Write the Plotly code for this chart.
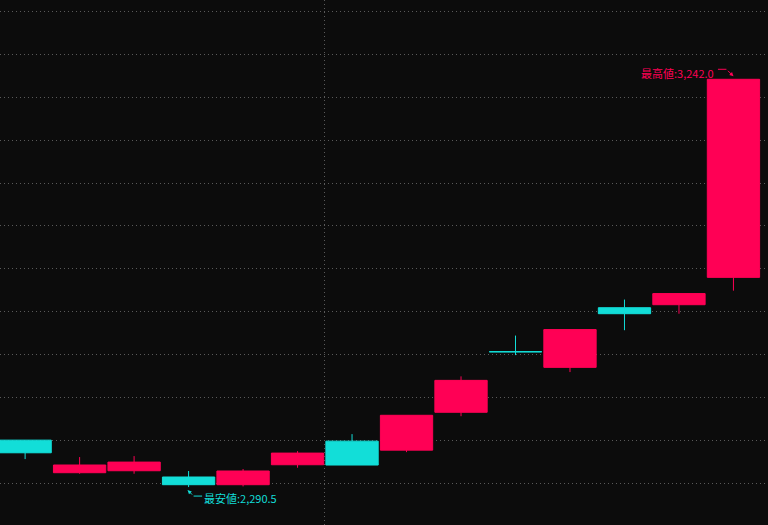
import plotly.graph_objects as go

# ---- data ----
days = list(range(14))
opens  = [2400.0, 2324.0, 2328.6, 2314.0, 2296.0, 2342.6, 2397.7, 2376.7, 2465.0, 2606.3, 2569.8, 2709.0, 2716.0, 2779.8]
highs  = [2400.0, 2360.5, 2362.8, 2328.0, 2332.6, 2374.4, 2414.0, 2458.0, 2548.8, 2644.0, 2658.0, 2728.0, 2742.0, 3242.0]
lows   = [2355.8, 2321.6, 2321.6, 2290.5, 2292.0, 2335.6, 2342.0, 2372.0, 2455.8, 2598.4, 2558.8, 2656.5, 2695.0, 2748.8]
closes = [2370.5, 2342.0, 2348.8, 2296.0, 2328.0, 2369.8, 2341.9, 2458.0, 2539.5, 2606.2, 2658.0, 2695.0, 2742.0, 3242.0]

high_label = "最高値:3,242.0"
low_label = "最安値:2,290.5"

UP = "#FF0055"
DOWN = "#12DED8"
BG = "#0C0C0C"
GRID = "#5A5A5A"

fig = go.Figure()
fig.add_trace(go.Candlestick(
    x=days, open=opens, high=highs, low=lows, close=closes,
    increasing=dict(line=dict(color=UP, width=1), fillcolor=UP),
    decreasing=dict(line=dict(color=DOWN, width=1), fillcolor=DOWN),
    whiskerwidth=0, showlegend=False, hoverinfo="skip",
))

i_hi = highs.index(max(highs))
i_lo = lows.index(min(lows))
font = dict(family="Noto Sans CJK JP", size=11)

ann = []
# high label + bent arrow
ann.append(dict(x=days[i_hi], y=highs[i_hi], xref="x", yref="y", text=high_label,
                showarrow=False, xanchor="right", yanchor="middle",
                xshift=-17, yshift=6, font=dict(color=UP, **font)))
ann.append(dict(x=days[i_hi], y=highs[i_hi], xref="x", yref="y", text="",
                showarrow=True, ax=-10, ay=0, xshift=-7, yshift=10,
                arrowhead=0, arrowwidth=1, arrowcolor=UP))
ann.append(dict(x=days[i_hi], y=highs[i_hi], xref="x", yref="y", text="",
                showarrow=True, ax=-7, ay=-7, xshift=0, yshift=3,
                arrowhead=2, arrowsize=0.8, arrowwidth=1, arrowcolor=UP))
# low label + bent arrow
ann.append(dict(x=days[i_lo], y=lows[i_lo], xref="x", yref="y", text=low_label,
                showarrow=False, xanchor="left", yanchor="middle",
                xshift=13, yshift=-11, font=dict(color=DOWN, **font)))
ann.append(dict(x=days[i_lo], y=lows[i_lo], xref="x", yref="y", text="",
                showarrow=True, ax=10, ay=0, xshift=5, yshift=-9,
                arrowhead=0, arrowwidth=1, arrowcolor=DOWN))
ann.append(dict(x=days[i_lo], y=lows[i_lo], xref="x", yref="y", text="",
                showarrow=True, ax=6, ay=6, xshift=-1, yshift=-3,
                arrowhead=2, arrowsize=0.8, arrowwidth=1, arrowcolor=DOWN))

fig.update_layout(
    width=768, height=525,
    margin=dict(l=0, r=0, t=0, b=0),
    paper_bgcolor=BG, plot_bgcolor=BG,
    boxgap=0.04, boxgroupgap=0,
    annotations=ann,
    xaxis=dict(range=[-0.461, 13.634], rangeslider=dict(visible=False),
               tickvals=[5.5], showticklabels=False, ticks="",
               showgrid=True, gridcolor=GRID, griddash="1px,3px", gridwidth=1,
               zeroline=False, showline=False),
    yaxis=dict(range=[2202, 3427], dtick=100, tick0=2300, showticklabels=False, ticks="",
               showgrid=True, gridcolor=GRID, griddash="1px,3px", gridwidth=1,
               zeroline=False, showline=False),
)

fig.write_html("out.html", config={"displayModeBar": False},
               post_script="document.body.style.margin='0';document.body.style.overflow='hidden';document.body.style.background='#0C0C0C';")
